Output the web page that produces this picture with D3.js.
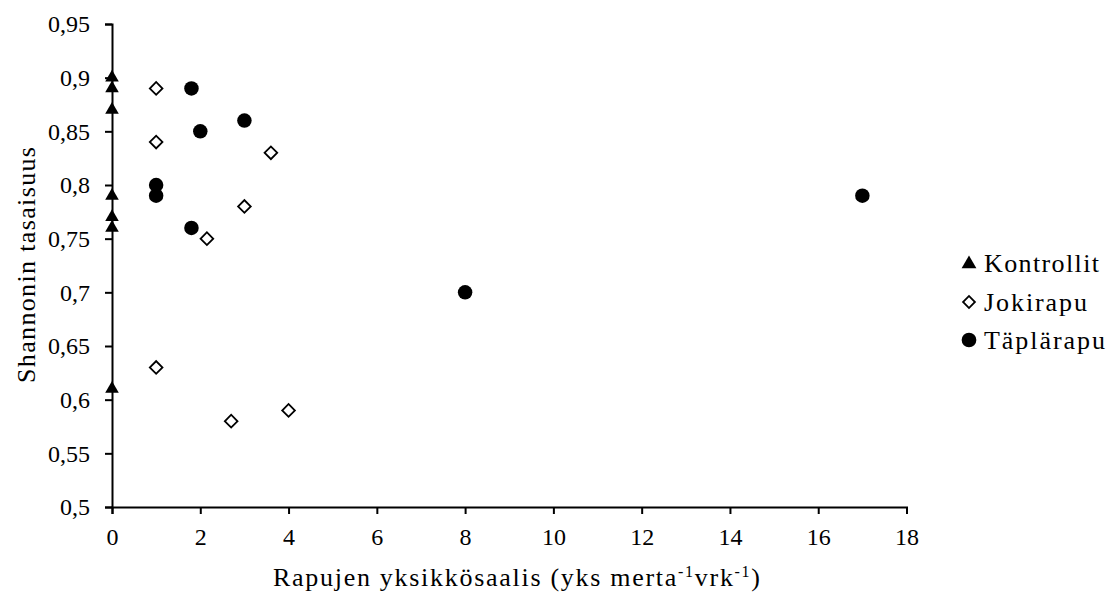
<!DOCTYPE html>
<html>
<head>
<meta charset="utf-8">
<script src="https://cdn.jsdelivr.net/npm/d3@7"></script>
<style>
  html, body { margin: 0; padding: 0; background: #fff; }
  svg { display: block; }
  text { font-family: "Liberation Serif", "DejaVu Serif", serif; fill: #000; }
</style>
</head>
<body>
<svg id="chart" width="1114" height="595"></svg>
<script>
// ---- data ----
const seriesNames = ["Kontrollit", "Jokirapu", "Täplärapu"];
const kontrollitX = [0, 0, 0, 0, 0, 0, 0];
const kontrollitY = [0.90, 0.89, 0.87, 0.79, 0.77, 0.76, 0.61];
const jokirapuX = [1, 1, 3.6, 3, 2.15, 1, 2.7, 4];
const jokirapuY = [0.89, 0.84, 0.83, 0.78, 0.75, 0.63, 0.58, 0.59];
const taplarapuX = [1.8, 2, 3, 1, 1, 1.8, 8, 17];
const taplarapuY = [0.89, 0.85, 0.86, 0.80, 0.79, 0.76, 0.70, 0.79];
const xTicks = [0, 2, 4, 6, 8, 10, 12, 14, 16, 18];
const yTicks = [0.5, 0.55, 0.6, 0.65, 0.7, 0.75, 0.8, 0.85, 0.9, 0.95];

const svg = d3.select("#chart");
const x = d3.scaleLinear().domain([0, 18]).range([112, 906.5]);
const y = d3.scaleLinear().domain([0.5, 0.95]).range([507, 24]);
const fmt = d => String(d).replace(".", ",");
const TICKFS = 24;
const LABFS = 26;

// axes
const xAxis = svg.append("g").attr("transform", "translate(0,507)")
  .call(d3.axisBottom(x).tickValues(xTicks).tickFormat(d => d).tickSizeOuter(0).tickSize(7).tickPadding(14));
const yAxis = svg.append("g").attr("transform", "translate(112,0)")
  .call(d3.axisLeft(y).tickValues(yTicks).tickFormat(fmt).tickSizeOuter(0).tickSize(7).tickPadding(15));
[xAxis, yAxis].forEach(a => {
  a.select(".domain").attr("stroke", "#000").attr("stroke-width", 2);
  a.selectAll(".tick line").attr("stroke", "#000").attr("stroke-width", 2);
  a.selectAll(".tick text").attr("font-family", "Liberation Serif").attr("font-size", TICKFS).attr("fill", "#000");
});

// symbols
const tri = d3.symbol().type(d3.symbolTriangle).size(80);
const sq = d3.symbol().type(d3.symbolSquare).size(80);
const circ = d3.symbol().type(d3.symbolCircle).size(165);

const plot = svg.append("g");
plot.selectAll(".j").data(jokirapuX.map((v, i) => [v, jokirapuY[i]])).join("path")
  .attr("d", sq).attr("transform", d => `translate(${x(d[0])},${y(d[1])}) rotate(45)`)
  .attr("fill", "#fff").attr("stroke", "#000").attr("stroke-width", 1.8);
plot.selectAll(".t").data(taplarapuX.map((v, i) => [v, taplarapuY[i]])).join("path")
  .attr("d", circ).attr("transform", d => `translate(${x(d[0])},${y(d[1])})`)
  .attr("fill", "#000");
plot.selectAll(".k").data(kontrollitX.map((v, i) => [v, kontrollitY[i]])).join("path")
  .attr("d", tri).attr("transform", d => `translate(${x(d[0])},${y(d[1])})`)
  .attr("fill", "#000");

// axis titles
svg.append("text").attr("transform", "translate(35,265) rotate(-90)")
  .attr("text-anchor", "middle").attr("font-size", LABFS)
  .attr("textLength", 236).attr("lengthAdjust", "spacing")
  .text("Shannonin tasaisuus");
const xt = svg.append("text").attr("x", 273).attr("y", 586)
  .attr("font-size", LABFS).attr("textLength", 487).attr("lengthAdjust", "spacing");
xt.append("tspan").text("Rapujen yksikkösaalis (yks merta");
xt.append("tspan").attr("dy", -9).attr("font-size", 16).text("-1");
xt.append("tspan").attr("dy", 9).text("vrk");
xt.append("tspan").attr("dy", -9).attr("font-size", 16).text("-1");
xt.append("tspan").attr("dy", 9).text(")");

// legend
const legY = [263, 302, 340];
const legW = [115, 103, 121];
const legSym = [
  d3.symbol().type(d3.symbolTriangle).size(95),
  d3.symbol().type(d3.symbolSquare).size(70),
  d3.symbol().type(d3.symbolCircle).size(170)
];
const leg = svg.append("g");
seriesNames.forEach((n, i) => {
  const p = leg.append("path").attr("d", legSym[i])
    .attr("transform", `translate(969,${legY[i] + (i === 0 ? 1 : 0)})` + (i === 1 ? " rotate(45)" : ""));
  if (i === 1) p.attr("fill", "#fff").attr("stroke", "#000").attr("stroke-width", 1.8);
  else p.attr("fill", "#000");
  leg.append("text").attr("x", 984).attr("y", legY[i]).attr("dy", "0.35em")
    .attr("font-size", LABFS).attr("textLength", legW[i]).attr("lengthAdjust", "spacing").text(n);
});
</script>
</body>
</html>
